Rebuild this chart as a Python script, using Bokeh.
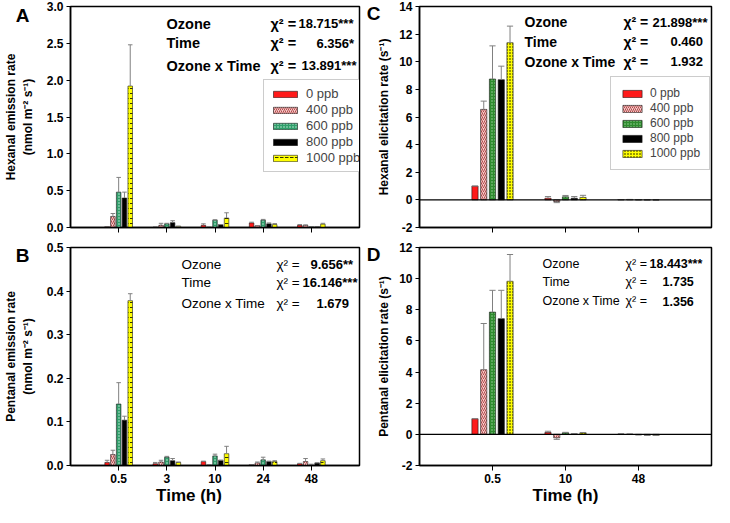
import numpy as np
from bokeh.plotting import figure
from bokeh.models import (FixedTicker, PrintfTickFormatter, Label, Span, Legend,
                          LegendItem, Range1d, LinearAxis, CustomJSTickFormatter)
from bokeh.layouts import row, column
from bokeh.embed import file_html
from bokeh.resources import INLINE

# ---------------- data ----------------
levels = ["0 ppb", "400 ppb", "600 ppb", "800 ppb", "1000 ppb"]
times_em = ["0.5", "3", "10", "24", "48"]
times_el = ["0.5", "10", "48"]

# A: Hexanal emission rate (nmol m-2 s-1)
hex_em = [
    [0.010, 0.005, 0.030, 0.062, 0.030],
    [0.150, 0.030, 0.003, 0.025, 0.030],
    [0.480, 0.050, 0.100, 0.100, 0.010],
    [0.400, 0.066, 0.040, 0.050, 0.010],
    [1.920, 0.017, 0.128, 0.040, 0.045],
]
hex_em_err = [
    [0.000, 0.000, 0.020, 0.010, 0.010],
    [0.040, 0.027, 0.000, 0.000, 0.005],
    [0.200, 0.007, 0.005, 0.010, 0.000],
    [0.080, 0.026, 0.000, 0.012, 0.000],
    [0.560, 0.000, 0.072, 0.013, 0.012],
]
# B: Pentanal emission rate
pen_em = [
    [0.007, 0.004, 0.009, 0.002, 0.004],
    [0.025, 0.008, 0.001, 0.006, 0.009],
    [0.141, 0.019, 0.022, 0.013, 0.001],
    [0.104, 0.011, 0.012, 0.009, 0.006],
    [0.378, 0.007, 0.027, 0.009, 0.011],
]
pen_em_err = [
    [0.005, 0.003, 0.001, 0.000, 0.001],
    [0.010, 0.004, 0.000, 0.002, 0.007],
    [0.049, 0.002, 0.004, 0.006, 0.002],
    [0.009, 0.005, 0.000, 0.001, 0.000],
    [0.016, 0.001, 0.017, 0.002, 0.004],
]
# C: Hexanal elicitation rate (s-1)
hex_el = [
    [1.00, 0.12, 0.02],
    [6.55, -0.12, 0.03],
    [8.75, 0.22, 0.01],
    [8.70, 0.12, 0.00],
    [11.38, 0.18, -0.01],
]
hex_el_err = [
    [0.00, 0.12, 0.00],
    [0.60, 0.08, 0.00],
    [2.40, 0.10, 0.00],
    [0.98, 0.12, 0.00],
    [1.20, 0.15, 0.00],
]
# D: Pentanal elicitation rate (s-1)
pen_el = [
    [1.00, 0.12, 0.02],
    [4.15, -0.22, 0.01],
    [7.85, 0.10, -0.03],
    [7.43, 0.03, -0.05],
    [9.83, 0.10, -0.07],
]
pen_el_err = [
    [0.00, 0.08, 0.00],
    [2.97, 0.10, 0.00],
    [1.40, 0.03, 0.00],
    [1.82, 0.00, 0.00],
    [1.72, 0.02, 0.00],
]

chi_A = ["18.715***", "6.356*", "13.891***"]
chi_B = ["9.656**", "16.146***", "1.679"]
chi_C = ["21.898***", "0.460", "1.932"]
chi_D = ["18.443***", "1.735", "1.356"]
effects = ["Ozone", "Time", "Ozone x Time"]

# ---------------- styles ----------------
FONT = "Liberation Sans"
OUT = "#1a1a1a"

STY_EM = [
    dict(fill_color="#ff1a1a", hatch_pattern=None),
    dict(fill_color="#f6c8c8", hatch_pattern="right_diagonal_line", hatch_color="#b24c4c",
         hatch_scale=4, hatch_weight=1),
    dict(fill_color="#2f9e6a", hatch_pattern="dot", hatch_color="#cdeedd",
         hatch_scale=3, hatch_weight=1),
    dict(fill_color="#000000", hatch_pattern=None),
    dict(fill_color="#ffff00", hatch_pattern="horizontal_dash", hatch_color="#333300",
         hatch_scale=5, hatch_weight=1),
]
STY_EL = [
    dict(fill_color="#ff1a1a", hatch_pattern=None),
    dict(fill_color="#f6c8c8", hatch_pattern="right_diagonal_line", hatch_color="#b24c4c",
         hatch_scale=4, hatch_weight=1),
    dict(fill_color="#2e8b2e", hatch_pattern="dot", hatch_color="#9fd49f",
         hatch_scale=3, hatch_weight=1),
    dict(fill_color="#000000", hatch_pattern=None),
    dict(fill_color="#ffff00", hatch_pattern="dot", hatch_color="#000000",
         hatch_scale=3, hatch_weight=1.5),
]

# layout (pixels)
BL_L, BR_L, BL_R, BR_R = 58, 8, 52, 3
FW_L, FW_R = 301, 292
BT_T, BB_T, BT_B, BB_B = 6, 12, 8, 42
FH_T, FH_B = 221, 218

NBSP = "\u00a0"


def panel(vals, errs, times, styles, ylim, yticks, yfmt, ylabel, letter, letter_dy,
          letter_standoff, label_standoff, chis, text_cfg, left, bottom, legend_cfg=None,
          zero_line=False, offset=0.12, bw=0.094, time_label="Time (h)"):
    n = len(times)
    BL, BR, FW = (BL_L, BR_L, FW_L) if left else (BL_R, BR_R, FW_R)
    BT, BB, FH = (BT_B, BB_B, FH_B) if bottom else (BT_T, BB_T, FH_T)
    W = BL + FW + BR
    H = BT + FH + BB
    p = figure(width=W, height=H, x_range=Range1d(0, n + 1), y_range=Range1d(*ylim),
               output_backend="svg", toolbar_location=None, tools="",
               min_border_left=BL, min_border_right=BR, min_border_top=BT,
               min_border_bottom=BB)
    p.xgrid.visible = False
    p.ygrid.visible = False
    p.outline_line_color = "black"
    p.outline_line_width = 1.5
    p.background_fill_color = "white"
    p.border_fill_color = "white"

    ya = p.yaxis[0]
    ya.ticker = FixedTicker(ticks=yticks)
    ya.formatter = PrintfTickFormatter(format=yfmt)
    ya.major_tick_out = 4
    ya.major_tick_in = 0
    ya.minor_tick_out = 0
    ya.minor_tick_in = 0
    ya.axis_line_width = 1.5
    ya.major_label_standoff = 3
    ya.major_label_text_font = FONT
    ya.major_label_text_font_style = "bold"
    ya.major_label_text_font_size = "12px"
    ya.major_label_text_color = "black"

    # outer left axis: carries the panel letter (its only tick label) and the axis title
    ymin, ymax = ylim
    letter_y = ymax - letter_dy / FH * (ymax - ymin)
    la = LinearAxis(ticker=FixedTicker(ticks=[letter_y]),
                    formatter=CustomJSTickFormatter(code="return '%s'" % letter),
                    axis_line_color=None, major_tick_line_color=None,
                    minor_tick_line_color=None, major_tick_out=0, major_tick_in=0,
                    major_label_standoff=letter_standoff,
                    major_label_text_font=FONT, major_label_text_font_style="bold",
                    major_label_text_font_size="19px", major_label_text_color="black",
                    axis_label=ylabel, axis_label_standoff=label_standoff,
                    axis_label_text_font=FONT, axis_label_text_font_style="bold",
                    axis_label_text_font_size="12px", axis_label_text_color="black")
    p.add_layout(la, "left")

    xa = p.xaxis[0]
    ticks = list(range(1, n + 1))
    xa.ticker = FixedTicker(ticks=ticks)
    xa.major_tick_out = 5
    xa.major_tick_in = 0
    xa.minor_tick_out = 0
    xa.minor_tick_in = 0
    xa.axis_line_width = 1.5
    xa.major_label_standoff = 3
    xa.major_label_text_font = FONT
    xa.major_label_text_font_style = "bold"
    xa.major_label_text_font_size = "12px"
    xa.major_label_text_color = "black"
    if bottom:
        xa.major_label_overrides = {t: lab for t, lab in zip(ticks, times)}
        xa.axis_label = time_label
        xa.axis_label_standoff = 0
        xa.axis_label_text_font = FONT
        xa.axis_label_text_font_style = "bold"
        xa.axis_label_text_font_size = "17px"
        xa.axis_label_text_color = "black"
    else:
        xa.major_label_overrides = {t: "" for t in ticks}

    if zero_line:
        p.add_layout(Span(location=0, dimension="width", line_color="black", line_width=1.2))

    base = np.arange(1, n + 1, dtype=float)
    items = []
    for j, (v, e, st) in enumerate(zip(vals, errs, styles)):
        x = base + (j - 2) * offset
        v = np.array(v, dtype=float)
        e = np.array(e, dtype=float)
        r = p.vbar(x=x, top=v, bottom=0, width=bw, line_color=OUT, line_width=0.6, **st)
        items.append(LegendItem(label=levels[j], renderers=[r]))
        y1 = v + np.where(v < 0, -e, e)
        p.segment(x0=x, y0=v, x1=x, y1=y1, line_color="#808080", line_width=1)
        p.segment(x0=x - bw / 2, y0=y1, x1=x + bw / 2, y1=y1, line_color="#808080", line_width=1)

    if legend_cfg is not None:
        top_below, gap, gw, gh, fs, lh, pad, sp, est_w, est_h = legend_cfg
        leg = Legend(items=items, location=(FW - gap - est_w, FH - top_below - est_h),
                     glyph_width=gw, glyph_height=gh,
                     label_text_font=FONT, label_text_font_size=fs, label_height=lh,
                     label_standoff=6, spacing=sp, padding=pad, margin=0,
                     border_line_color="#9a9a9a", border_line_width=1,
                     background_fill_color="white", background_fill_alpha=1.0)
        p.add_layout(leg)

    (name_d, chi_d, val_ds, ys, name_fs, val_fs, name_w) = text_cfg
    for k in range(3):
        yy = FH - ys[k] * FH
        p.add_layout(Label(x=FW - name_d, y=yy, x_units="screen", y_units="screen",
                           text=effects[k], text_font=FONT, text_font_style=name_w,
                           text_font_size=name_fs, text_align="left", text_baseline="middle",
                           text_color="black"))
        p.add_layout(Label(x=FW - chi_d, y=yy, x_units="screen", y_units="screen",
                           text="\u03c7\u00b2 =", text_font=FONT, text_font_style=name_w,
                           text_font_size=name_fs, text_align="left", text_baseline="middle",
                           text_color="black"))
        p.add_layout(Label(x=FW - val_ds[k], y=yy, x_units="screen", y_units="screen",
                           text=chis[k], text_font=FONT, text_font_style="bold",
                           text_font_size=val_fs, text_align="left", text_baseline="middle",
                           text_color="black"))
    return p


pA = panel(hex_em, hex_em_err, times_em, STY_EM, (0, 3.0), [0, 0.5, 1.0, 1.5, 2.0, 2.5, 3.0],
           "%.1f", "Hexanal emission rate\n(nmol m\u207b\u00b2 s\u207b\u00b9)", "A", 9, 14, -22,
           chi_A, (205, 101, [73, 55, 70], [0.079, 0.167, 0.269], "14.5px", "13px", "bold"),
           left=True, bottom=False,
           legend_cfg=(70, 6, 30, 8, "13px", 14, 6, 1, 102, 96))
pB = panel(pen_em, pen_em_err, times_em, STY_EM, (0, 0.5), [0, 0.1, 0.2, 0.3, 0.4, 0.5],
           "%.1f", "Pentanal emission rate\n(nmol m\u207b\u00b2 s\u207b\u00b9)", "B", 8, 14, -22,
           chi_B, (190, 95, [61, 69, 55], [0.076, 0.161, 0.259], "13.5px", "13px", "normal"),
           left=True, bottom=True, time_label="Time (h)" + NBSP * 11)
pC = panel(hex_el, hex_el_err, times_el, STY_EL, (-2, 14), list(range(-2, 15, 2)),
           "%d", "Hexanal elicitation rate (s\u207b\u00b9)", "C", 7, 16, -27,
           chi_C, (187, 88, [59, 41, 41], [0.071, 0.16, 0.249], "14px", "13px", "bold"),
           left=False, bottom=False, zero_line=True, bw=0.085,
           legend_cfg=(68, 4, 24, 9, "12px", 13, 9, 1, 97, 96))
pD = panel(pen_el, pen_el_err, times_el, STY_EL, (-2, 12), list(range(-2, 13, 2)),
           "%d", "Pentanal elicitation rate (s\u207b\u00b9)", "D", 7, 16, -27,
           chi_D, (169, 86, [62, 49, 49], [0.076, 0.156, 0.246], "12.5px", "12.5px", "normal"),
           left=False, bottom=True, zero_line=True, bw=0.085)

layout = column(row(pA, pC), row(pB, pD))
open("out.html", "w").write(file_html(layout, INLINE))
